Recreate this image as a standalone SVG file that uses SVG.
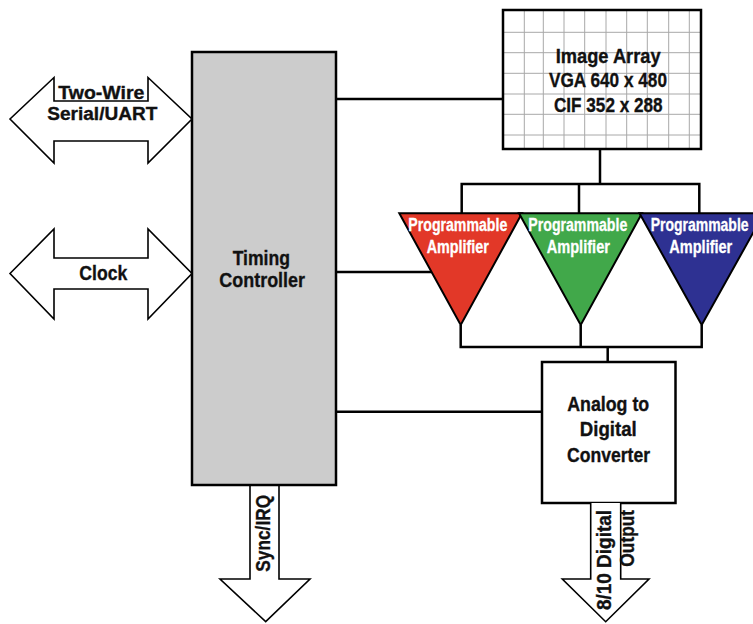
<svg xmlns="http://www.w3.org/2000/svg" width="753" height="624" viewBox="0 0 753 624">
  <style>
    text { font-family: "Liberation Sans", Arial, sans-serif; font-weight: 700; fill: #111; stroke: #111; stroke-width: 0.35; }
    .t18 { font-size: 18px; }
    .t20 { font-size: 20px; }
    .t21 { font-size: 21px; }
    .amp { font-size: 17.5px; fill: #fff; stroke: #fff; stroke-width: 0.3; text-anchor: middle; }
    .arrow { fill: #fff; stroke: #000; stroke-width: 1.6; stroke-linejoin: miter; }
    .box { stroke: #000; stroke-width: 2.5; }
    .conn { fill: none; stroke: #000; stroke-width: 2.5; }
    .tri { stroke: #000; stroke-width: 2; stroke-linejoin: miter; }
    .grid { fill: none; stroke: #a8a8a8; stroke-width: 1; }
  </style>
  <rect x="0" y="0" width="753" height="624" fill="#fff"/>

  <g id="connectors">
    <path class="conn" d="M336,99 H503"/>
    <path class="conn" d="M600,149 V184"/>
    <path class="conn" d="M461.7,213 V184 H699.3 V213 M579,184 V213"/>
    <path class="conn" d="M336,272 H432"/>
    <path class="conn" d="M460.7,325 V347 H701.7 V325 M580.7,325 V347 M607.7,347 V362"/>
    <path class="conn" d="M336,411.7 H542"/>
  </g>

  <g id="two-wire">
    <path class="arrow" d="M10,119 L54,77.5 V101 H148 V77.5 L192,119 L148,163 V141 H54 V163 Z"/>
    <text class="t18" x="101.3" y="98.5" text-anchor="middle" textLength="86" lengthAdjust="spacingAndGlyphs">Two-Wire</text>
    <text class="t18" x="102.3" y="120" text-anchor="middle" textLength="110" lengthAdjust="spacingAndGlyphs">Serial/UART</text>
  </g>

  <g id="clock">
    <path class="arrow" d="M10,273.5 L54,229 V258 H148 V229 L192,273.5 L148,319 V289 H54 V319 Z"/>
    <text class="t20" x="103.3" y="280" text-anchor="middle" textLength="48" lengthAdjust="spacingAndGlyphs">Clock</text>
  </g>

  <g id="sync-irq">
    <path class="arrow" d="M250,485 V579 H220 L265.7,621.7 L310,579 H279 V485"/>
    <text class="t20" transform="translate(270,533.3) rotate(-90)" x="0" y="0" text-anchor="middle" textLength="76.7" lengthAdjust="spacingAndGlyphs">Sync/IRQ</text>
  </g>

  <g id="timing-controller">
    <rect class="box" x="192" y="52" width="144" height="433" fill="#cccccc"/>
    <text class="t21" x="261.3" y="265" text-anchor="middle" textLength="57.3" lengthAdjust="spacingAndGlyphs">Timing</text>
    <text class="t21" x="262.2" y="287.3" text-anchor="middle" textLength="85.7" lengthAdjust="spacingAndGlyphs">Controller</text>
  </g>

  <g id="image-array">
    <rect x="503" y="10" width="198" height="139" fill="#fff"/>
    <path class="grid" d="M524.3,10 V149 M543.3,10 V149 M564,10 V149 M584.7,10 V149 M606,10 V149 M626.7,10 V149 M647.3,10 V149 M668.7,10 V149 M689.3,10 V149 M503,32.3 H701 M503,52.7 H701 M503,73.3 H701 M503,94 H701 M503,114.3 H701 M503,135 H701"/>
    <rect class="box" x="503" y="10" width="198" height="139" fill="none"/>
    <text class="t21" x="608.2" y="63.3" text-anchor="middle" textLength="105" lengthAdjust="spacingAndGlyphs">Image Array</text>
    <text class="t21" x="608" y="87.3" text-anchor="middle" textLength="118" lengthAdjust="spacingAndGlyphs">VGA 640 x 480</text>
    <text class="t21" x="608.3" y="111.7" text-anchor="middle" textLength="108.7" lengthAdjust="spacingAndGlyphs">CIF 352 x 288</text>
  </g>

  <g id="amp-red">
    <path class="tri" fill="#e23828" d="M399.3,213.3 H522 L460.7,325 Z"/>
    <text class="amp" transform="translate(457.8,231) scale(0.808,1)">Programmable</text>
    <text class="amp" transform="translate(457.8,253.3) scale(0.822,1)">Amplifier</text>
  </g>

  <g id="amp-green">
    <path class="tri" fill="#41a84a" d="M519,213.3 H642 L580.7,325 Z"/>
    <text class="amp" transform="translate(577.8,231) scale(0.808,1)">Programmable</text>
    <text class="amp" transform="translate(578.3,253.3) scale(0.835,1)">Amplifier</text>
  </g>

  <g id="amp-blue">
    <path class="tri" fill="#2e3192" d="M639.5,213.3 H764 L701.7,325 Z"/>
    <text class="amp" transform="translate(699.6,231) scale(0.8,1)">Programmable</text>
    <text class="amp" transform="translate(700.8,253.3) scale(0.83,1)">Amplifier</text>
  </g>

  <g id="adc">
    <rect class="box" x="542" y="362" width="133.5" height="141" fill="#fff"/>
    <text class="t20" x="608.2" y="410.7" text-anchor="middle" textLength="82" lengthAdjust="spacingAndGlyphs">Analog to</text>
    <text class="t20" x="608.3" y="436" text-anchor="middle" textLength="57" lengthAdjust="spacingAndGlyphs">Digital</text>
    <text class="t20" x="608.5" y="461.7" text-anchor="middle" textLength="83" lengthAdjust="spacingAndGlyphs">Converter</text>
  </g>

  <g id="digital-output">
    <path class="arrow" d="M590.7,503 V579 H562.3 L605.7,621.7 L649,579 H620.7 V503"/>
    <text class="t20" transform="translate(610.5,560) rotate(-90)" x="0" y="0" text-anchor="middle" textLength="100" lengthAdjust="spacingAndGlyphs">8/10 Digital</text>
    <text class="t20" transform="translate(634,538.3) rotate(-90)" x="0" y="0" text-anchor="middle" textLength="56.7" lengthAdjust="spacingAndGlyphs">Output</text>
  </g>
</svg>
